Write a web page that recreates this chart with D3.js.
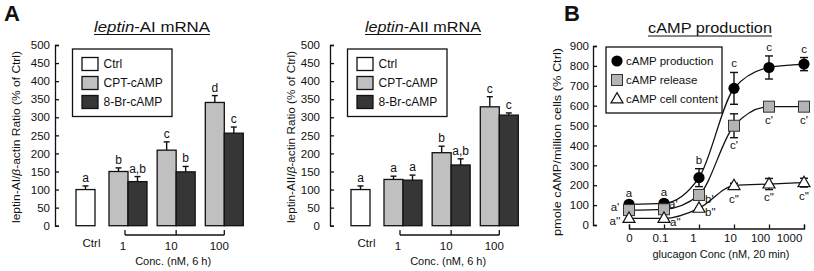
<!DOCTYPE html>
<html>
<head>
<meta charset="utf-8">
<script src="https://cdn.jsdelivr.net/npm/d3@7"></script>
<style>
  body { margin: 0; background: #fff; }
  text { font-family: "Liberation Sans", Arial, sans-serif; fill: #111; }
</style>
</head>
<body>
<script>
// ---- data: panel A (leptin-AI / leptin-AII mRNA, % of Ctrl) ----
const concA = ["1", "10", "100"];
const seriesA = ["Ctrl", "CPT-cAMP", "8-Br-cAMP"];
const yTicksA = [0, 50, 100, 150, 200, 250, 300, 350, 400, 450, 500];

const aiCtrl = [100], aiCtrlErr = [10], aiCtrlSig = ["a"];
const aiCpt = [150, 209, 341], aiCptErr = [10, 23, 19], aiCptSig = ["b", "c", "d"];
const aiBr = [122, 149, 256], aiBrErr = [14, 15, 17], aiBrSig = ["a,b", "b", "c"];

const aiiCtrl = [100], aiiCtrlErr = [10], aiiCtrlSig = ["a"];
const aiiCpt = [128, 202, 329], aiiCptErr = [9, 18, 28], aiiCptSig = ["a", "b", "c"];
const aiiBr = [126, 168, 306], aiiBrErr = [14, 17, 6], aiiBrSig = ["a", "a,b", "c"];

// ---- data: panel B (cAMP, % Ctrl) ----
const glucagonConc = ["0", "0.1", "1", "10", "100", "1000"];
const yTicksB = [0, 100, 200, 300, 400, 500, 600, 700, 800, 900];
const prodMean = [104, 109, 238, 687, 792, 809];
const prodErr = [0, 0, 45, 80, 58, 33];
const prodSig = ["a", "a", "b", "c", "c", "c"];
const relMean = [75, 79, 151, 499, 595, 595];
const relErr = [0, 0, 0, 60, 12, 10];
const relSig = ["a'", "a'", "b'", "c'", "c'", "c'"];
const contMean = [33, 33, 84, 198, 206, 213];
const contErr = [0, 0, 0, 12, 28, 22];
const contSig = ["a''", "a''", "b''", "c''", "c''", "c''"];
const seriesB = ["cAMP production", "cAMP release", "cAMP cell content"];

// ---- style / layout ----
const fillColor = { "Ctrl": "#ffffff", "CPT-cAMP": "#c0c0c0", "8-Br-cAMP": "#363636" };
const ink = "#111";
const barW = 19;
const relSigPos = ["upleft", "upright", "right", "below", "below", "below"];
const contSigPos = ["left", "right", "right", "below", "below", "below"];
const xLabelShiftB = [0, -4, -6, -4, -9, -15];

const svg = d3.select("body").append("svg")
  .attr("width", 814).attr("height", 271);

svg.append("text").attr("x", 4).attr("y", 21)
  .attr("font-size", 22).attr("font-weight", "bold").text("A");
svg.append("text").attr("x", 564).attr("y", 21)
  .attr("font-size", 22).attr("font-weight", "bold").text("B");

function title(cx, y, len, size, parts) {
  const t = svg.append("text").attr("x", cx).attr("y", y)
    .attr("text-anchor", "middle").attr("font-size", size)
    .attr("textLength", len).attr("lengthAdjust", "spacingAndGlyphs");
  parts.forEach(p => t.append("tspan").attr("font-style", p[1] ? "italic" : "normal").text(p[0]));
  svg.append("line").attr("x1", cx - len / 2).attr("x2", cx + len / 2)
    .attr("y1", y + 3).attr("y2", y + 3).attr("stroke", ink).attr("stroke-width", 1);
}

function yAxisLabel(cx, cy, len, parts) {
  const t = svg.append("text")
    .attr("transform", `translate(${cx},${cy}) rotate(-90)`)
    .attr("text-anchor", "middle").attr("dominant-baseline", "central")
    .attr("font-size", 11.5)
    .attr("textLength", len).attr("lengthAdjust", "spacingAndGlyphs");
  parts.forEach(p => t.append("tspan").attr("font-style", p[1] ? "italic" : "normal").text(p[0]));
}

function styleAxis(g) {
  g.attr("font-family", null).attr("font-size", 11.5);
  g.selectAll("path, line").attr("stroke", ink).attr("stroke-width", 1.3);
  g.selectAll("text").attr("fill", ink);
}

function drawBarPanel(p) {
  const y = d3.scaleLinear().domain([0, 500]).range([225.7, 45]);
  const x = d3.scalePoint().domain(concA).range([p.axisX + 73, p.axisX + 169.3]);
  const ctrlX = p.axisX + 30.5;

  svg.append("g").attr("transform", `translate(${p.axisX},0)`)
    .call(d3.axisLeft(y).tickValues(yTicksA).tickSizeInner(-4).tickSizeOuter(-4).tickPadding(p.pad))
    .call(styleAxis);

  const bars = [{ cx: ctrlX, s: "Ctrl", v: p.ctrl[0], e: p.ctrlErr[0], sig: p.ctrlSig[0] }];
  concA.forEach((c, i) => {
    bars.push({ cx: x(c) - barW / 2, s: "CPT-cAMP", v: p.cpt[i], e: p.cptErr[i], sig: p.cptSig[i] });
    bars.push({ cx: x(c) + barW / 2, s: "8-Br-cAMP", v: p.br[i], e: p.brErr[i], sig: p.brSig[i] });
  });

  const g = svg.append("g");
  g.selectAll("line.err").data(bars).join("line").attr("class", "err")
    .attr("x1", d => d.cx).attr("x2", d => d.cx)
    .attr("y1", d => y(d.v)).attr("y2", d => y(d.v + d.e))
    .attr("stroke", ink).attr("stroke-width", 1.4);
  g.selectAll("line.cap").data(bars).join("line").attr("class", "cap")
    .attr("x1", d => d.cx - 3).attr("x2", d => d.cx + 3)
    .attr("y1", d => y(d.v + d.e)).attr("y2", d => y(d.v + d.e))
    .attr("stroke", ink).attr("stroke-width", 1.4);
  g.selectAll("rect").data(bars).join("rect")
    .attr("x", d => d.cx - barW / 2).attr("width", barW)
    .attr("y", d => y(d.v)).attr("height", d => y(0) - y(d.v))
    .attr("fill", d => fillColor[d.s]).attr("stroke", ink).attr("stroke-width", 1.3);
  g.selectAll("text").data(bars).join("text")
    .attr("x", d => d.cx).attr("y", d => y(d.v + d.e) - 4)
    .attr("text-anchor", "middle").attr("font-size", 12).text(d => d.sig);

  // concentration bracket
  const by = 235;
  const xs = concA.map(c => x(c));
  svg.append("line").attr("x1", xs[0] - 3).attr("x2", xs[2])
    .attr("y1", by).attr("y2", by).attr("stroke", ink).attr("stroke-width", 1.3);
  svg.selectAll(null).data(concA).join("line")
    .attr("x1", (c, i) => x(c) - (i === 0 ? 3 : 0)).attr("x2", (c, i) => x(c) - (i === 0 ? 3 : 0))
    .attr("y1", by - 5).attr("y2", by).attr("stroke", ink).attr("stroke-width", 1.3);
  svg.selectAll(null).data(concA).join("text")
    .attr("x", c => x(c) - 5).attr("y", 250)
    .attr("text-anchor", "middle").attr("font-size", 11.5).text(c => c);
  svg.append("text").attr("x", ctrlX + 6).attr("y", 247)
    .attr("text-anchor", "middle").attr("font-size", 11.5).text("Ctrl");
  svg.append("text").attr("x", x("10") - 3).attr("y", 265)
    .attr("text-anchor", "middle").attr("font-size", 11.5)
    .attr("textLength", 76).attr("lengthAdjust", "spacingAndGlyphs")
    .text("Conc. (nM, 6 h)");

  // legend
  const lx = p.axisX + 17.5, ly = 49;
  const lg = svg.append("g").attr("transform", `translate(${lx},${ly})`);
  lg.append("rect").attr("width", 99.5).attr("height", 67.5)
    .attr("fill", "#fff").attr("stroke", ink).attr("stroke-width", 1.3);
  const rows = lg.selectAll("g").data(seriesA).join("g")
    .attr("transform", (d, i) => `translate(0,${15 + i * 19})`);
  rows.append("rect").attr("x", 9.5).attr("y", -6.5).attr("width", 16).attr("height", 13)
    .attr("fill", d => fillColor[d]).attr("stroke", ink).attr("stroke-width", 1.3);
  rows.append("text").attr("x", 31).attr("y", 0).attr("dominant-baseline", "central")
    .attr("font-size", 12).text(d => d);

  title(p.titleX, 31.5, 116, 14, [["leptin", true], [p.name + " mRNA", false]]);
  yAxisLabel(p.axisX - 39, 137, 172,
    [["leptin-" + p.name.slice(1) + "/", false], ["β", true], ["-actin Ratio (% of Ctrl)", false]]);
}

drawBarPanel({
  axisX: 55, pad: 5, titleX: 152, name: "-AI",
  ctrl: aiCtrl, ctrlErr: aiCtrlErr, ctrlSig: aiCtrlSig,
  cpt: aiCpt, cptErr: aiCptErr, cptSig: aiCptSig,
  br: aiBr, brErr: aiBrErr, brSig: aiBrSig
});
drawBarPanel({
  axisX: 330, pad: 10, titleX: 423, name: "-AII",
  ctrl: aiiCtrl, ctrlErr: aiiCtrlErr, ctrlSig: aiiCtrlSig,
  cpt: aiiCpt, cptErr: aiiCptErr, cptSig: aiiCptSig,
  br: aiiBr, brErr: aiiBrErr, brSig: aiiBrSig
});

// ---- panel B ----
const yB = d3.scaleLinear().domain([0, 900]).range([225, 46]);
const xB = d3.scalePoint().domain(glucagonConc).range([629, 804]);

svg.append("g").attr("transform", "translate(593,0)")
  .call(d3.axisLeft(yB).tickValues(yTicksB).tickSizeInner(-4).tickSizeOuter(-4).tickPadding(4))
  .call(styleAxis);
svg.append("g").attr("transform", "translate(0,228.5)")
  .call(d3.axisBottom(xB).tickSizeInner(-4).tickSizeOuter(-4).tickPadding(5.5))
  .call(styleAxis)
  .call(g => g.selectAll(".tick text").attr("dx", (d, i) => xLabelShiftB[i]));

svg.append("text").attr("x", 721).attr("y", 258)
  .attr("text-anchor", "middle").attr("font-size", 11.5)
  .attr("textLength", 137).attr("lengthAdjust", "spacingAndGlyphs")
  .text("glucagon Conc (nM, 20 min)");
yAxisLabel(557, 142, 188, [["pmole cAMP/million cells (% Ctrl)", false]]);
title(710, 33, 124, 15, [["cAMP production", false]]);

const line = d3.line().x((d, i) => xB(glucagonConc[i])).y(d => yB(d)).curve(d3.curveMonotoneX);
[prodMean, relMean, contMean].forEach(m => {
  svg.append("path").datum(m).attr("d", line)
    .attr("fill", "none").attr("stroke", ink).attr("stroke-width", 1.3);
});

function errBars(mean, err) {
  const d = mean.map((m, i) => ({ x: xB(glucagonConc[i]), m, e: err[i] })).filter(d => d.e > 0);
  const g = svg.append("g").attr("stroke", ink).attr("stroke-width", 1.4);
  g.selectAll("line.v").data(d).join("line").attr("class", "v")
    .attr("x1", d => d.x).attr("x2", d => d.x)
    .attr("y1", d => yB(d.m - d.e)).attr("y2", d => yB(d.m + d.e));
  [1, -1].forEach(s => {
    g.selectAll(null).data(d).join("line")
      .attr("x1", d => d.x - 4).attr("x2", d => d.x + 4)
      .attr("y1", d => yB(d.m + s * d.e)).attr("y2", d => yB(d.m + s * d.e));
  });
}
errBars(prodMean, prodErr);
errBars(relMean, relErr);
errBars(contMean, contErr);

const tri = d3.symbol().type(d3.symbolTriangle).size(62);
function marker(sel, kind) {
  if (kind === 0) sel.append("circle").attr("r", 5.6).attr("fill", "#000");
  if (kind === 1) sel.append("rect").attr("x", -5.5).attr("y", -5.5).attr("width", 11).attr("height", 11)
    .attr("fill", "#b4b4b4").attr("stroke", "#333").attr("stroke-width", 1);
  if (kind === 2) sel.append("path").attr("d", tri).attr("transform", "translate(0,0.5)")
    .attr("fill", "#fff").attr("stroke", ink).attr("stroke-width", 1.2);
}
[prodMean, relMean, contMean].forEach((m, k) => {
  svg.append("g").selectAll("g").data(m).join("g")
    .attr("transform", (d, i) => `translate(${xB(glucagonConc[i])},${yB(d)})`)
    .each(function () { marker(d3.select(this), k); });
});

function sigLabels(mean, err, sig, pos) {
  svg.append("g").selectAll("text").data(sig).join("text")
    .attr("font-size", 11.5)
    .each(function (s, i) {
      const t = d3.select(this), cx = xB(glucagonConc[i]), cy = yB(mean[i]);
      const p = pos ? pos[i] : "above";
      if (p === "above") {
        t.attr("x", cx).attr("y", Math.min(cy - 7, yB(mean[i] + err[i]) - 5)).attr("text-anchor", "middle");
      } else if (p === "below") {
        t.attr("x", cx).attr("y", Math.max(cy + 6, yB(mean[i] - err[i])) + 11).attr("text-anchor", "middle");
      } else if (p === "left") {
        t.attr("x", cx - 14).attr("y", cy + 7).attr("text-anchor", "middle");
      } else if (p === "upleft") {
        t.attr("x", cx - 14).attr("y", cy + 0.5).attr("text-anchor", "middle");
      } else if (p === "upright") {
        t.attr("x", cx + 5).attr("y", cy - 1.5).attr("text-anchor", "start");
      } else {
        t.attr("x", cx + 6).attr("y", cy + 8).attr("text-anchor", "start");
      }
    })
    .text(s => s);
}
sigLabels(prodMean, prodErr, prodSig, null);
sigLabels(relMean, relErr, relSig, relSigPos);
sigLabels(contMean, contErr, contSig, contSigPos);

// legend B
const lgB = svg.append("g").attr("transform", "translate(606,47)");
lgB.append("rect").attr("width", 116).attr("height", 66)
  .attr("fill", "#fff").attr("stroke", ink).attr("stroke-width", 1.3);
const rowsB = lgB.selectAll("g").data(seriesB).join("g")
  .attr("transform", (d, i) => `translate(11,${14 + i * 19})`);
rowsB.each(function (d, i) { marker(d3.select(this), i); });
rowsB.append("text").attr("x", 9).attr("dominant-baseline", "central")
  .attr("font-size", 11.5).text(d => d);
</script>
</body>
</html>
